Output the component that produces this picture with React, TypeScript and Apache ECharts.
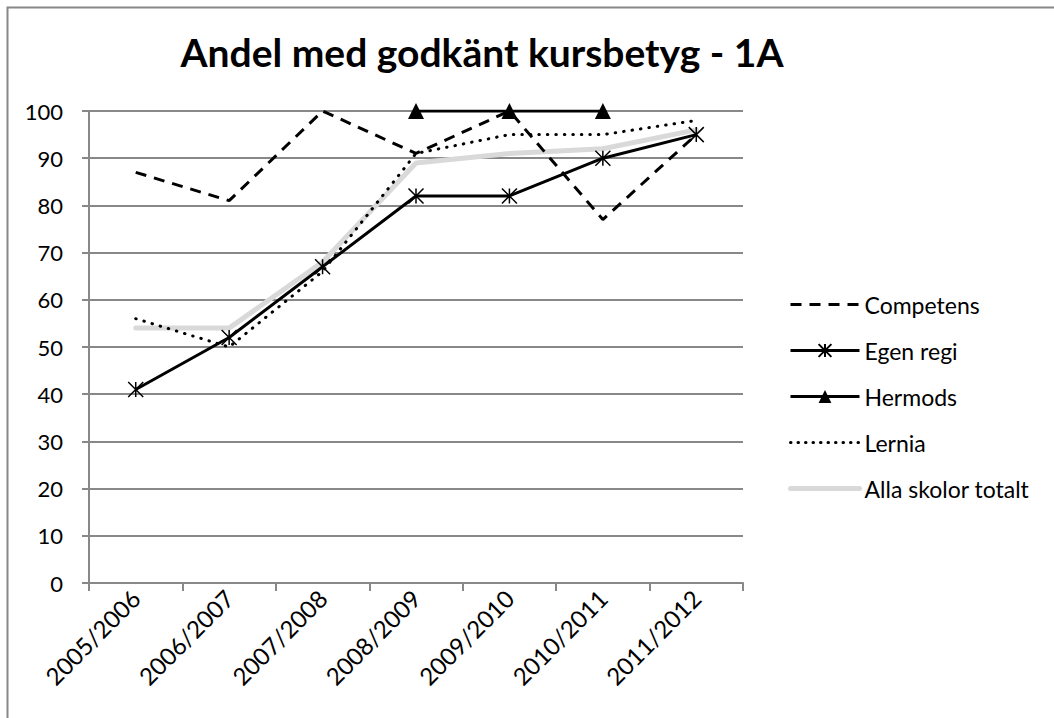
import React, { useEffect, useRef } from "react";
import * as echarts from "echarts";

const categories = ["2005/2006", "2006/2007", "2007/2008", "2008/2009", "2009/2010", "2010/2011", "2011/2012"];
const competens = [87, 81, 100, 91, 100, 77, 95];
const egenRegi = [41, 52, 67, 82, 82, 90, 95];
const hermods = [null, null, null, 100, 100, 100, null];
const lernia = [56, 50, 66, 91, 95, 95, 98];
const allaSkolor = [54, 54, 68, 89, 91, 92, 96];

const FONT = "Lato, 'Noto Sans', sans-serif";
const ASTERISK = "path://M0,0 L10,10 M10,0 L0,10 M5,0 L5,10";
const HIDDEN = { color: "transparent", borderWidth: 0, opacity: 0 };

export default function App() {
  const ref = useRef<HTMLDivElement>(null);
  useEffect(() => {
    if (!ref.current) return;
    const chart = echarts.init(ref.current, null, { renderer: "svg" });
    chart.setOption({
      animation: false,
      backgroundColor: "#fff",
      textStyle: { fontFamily: FONT },
      graphic: [
        {
          type: "polyline",
          shape: { points: [[7.5, 718], [7.5, 7.5], [1054, 7.5]] },
          style: { stroke: "#888", lineWidth: 2, fill: "none" },
          z: 100,
        },
      ],
      title: {
        text: "Andel med godkänt kursbetyg - 1A",
        left: 477,
        textAlign: "center",
        top: 27,
        textStyle: { fontFamily: FONT, fontWeight: "bold", fontSize: 39, color: "#000" },
      },
      legend: {
        orient: "vertical",
        left: 783,
        top: 288,
        itemWidth: 69,
        itemHeight: 16,
        itemGap: 23,
        textStyle: { fontFamily: FONT, fontSize: 23, color: "#000" },
        data: [
          { name: "Competens", itemStyle: HIDDEN, lineStyle: { width: 3, color: "#000", type: [11, 8] } },
          { name: "Egen regi", lineStyle: { width: 3, color: "#000" } },
          { name: "Hermods", lineStyle: { width: 3, color: "#000" } },
          { name: "Lernia", itemStyle: HIDDEN, lineStyle: { width: 3, color: "#000", type: [0.5, 7], cap: "round" } },
          { name: "Alla skolor totalt", itemStyle: HIDDEN, lineStyle: { width: 5, color: "#d9d9d9", cap: "round" } },
        ],
      },
      grid: { left: 89, right: 311, top: 111, bottom: 135, containLabel: false },
      xAxis: {
        type: "category",
        data: categories,
        boundaryGap: true,
        axisLine: { lineStyle: { color: "#888", width: 2 } },
        axisTick: { show: true, length: 8, lineStyle: { color: "#888", width: 2 } },
        axisLabel: { rotate: 45, fontSize: 24, color: "#000", fontFamily: FONT, margin: 11 },
      },
      yAxis: {
        type: "value",
        min: 0,
        max: 100,
        interval: 10,
        axisLine: { show: true, lineStyle: { color: "#888", width: 2 } },
        axisTick: { show: true, length: 7, lineStyle: { color: "#888", width: 2 } },
        splitLine: { lineStyle: { color: "#888", width: 2 } },
        axisLabel: { fontSize: 22, color: "#000", fontFamily: FONT, margin: 26 },
      },
      series: [
        {
          name: "Competens",
          type: "line",
          data: competens,
          symbol: "none",
          lineStyle: { color: "#000", width: 3, type: [11, 8] },
          itemStyle: { color: "#000" },
          z: 3,
        },
        {
          name: "Egen regi",
          type: "line",
          data: egenRegi,
          symbol: ASTERISK,
          symbolSize: 15,
          lineStyle: { color: "#000", width: 3 },
          itemStyle: { color: "#000", borderColor: "#000", borderWidth: 1.5 },
          z: 3,
        },
        {
          name: "Hermods",
          type: "line",
          data: hermods,
          symbol: "triangle",
          symbolSize: 16,
          lineStyle: { color: "#000", width: 3 },
          itemStyle: { color: "#000" },
          z: 3,
        },
        {
          name: "Lernia",
          type: "line",
          data: lernia,
          symbol: "none",
          lineStyle: { color: "#000", width: 3, type: [0.5, 8], cap: "round" },
          itemStyle: { color: "#000" },
          z: 3,
        },
        {
          name: "Alla skolor totalt",
          type: "line",
          data: allaSkolor,
          symbol: "none",
          lineStyle: { color: "#d9d9d9", width: 5, cap: "round" },
          itemStyle: { color: "#d9d9d9" },
          z: 2,
        },
      ],
    });
    return () => chart.dispose();
  }, []);
  return <div ref={ref} style={{ width: 1054, height: 718, position: "absolute", left: 0, top: 0 }} />;
}
